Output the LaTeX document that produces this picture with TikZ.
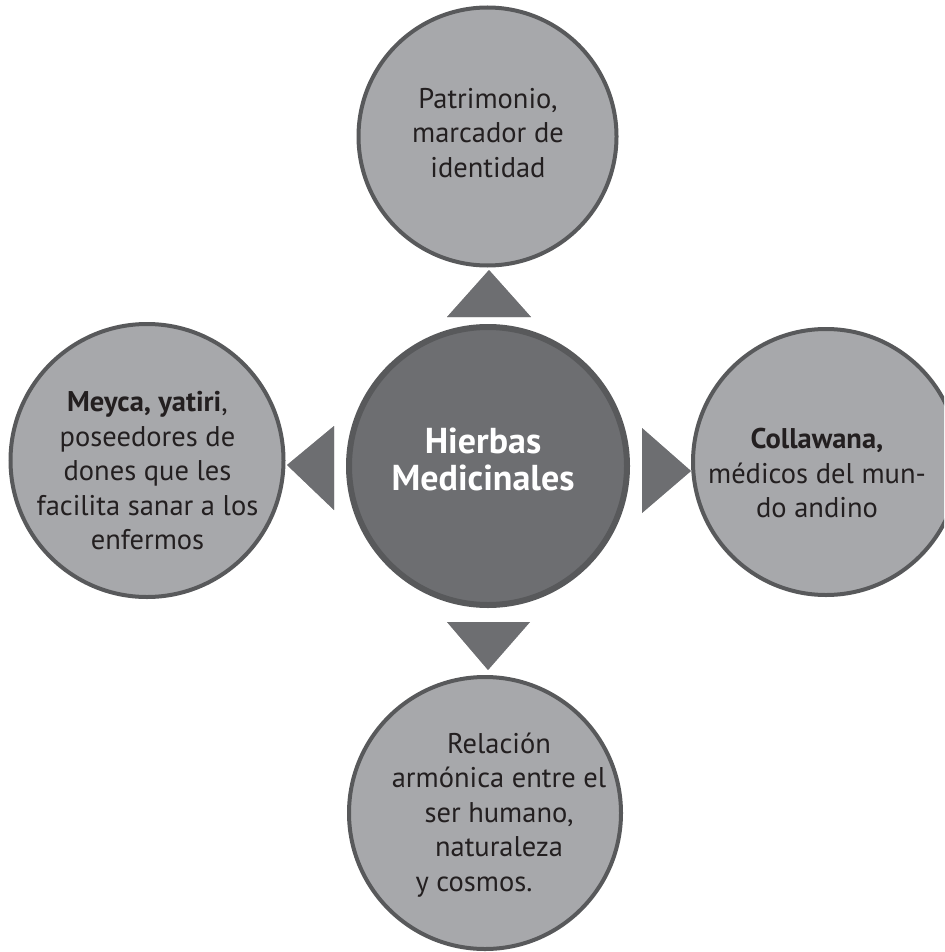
\documentclass[tikz,border=0pt]{standalone}
\usepackage{fontspec}
\setmainfont{PT Sans}
\definecolor{outerfill}{HTML}{A7A8AB}
\definecolor{ringline}{HTML}{58595B}
\definecolor{corefill}{HTML}{6D6E71}
\definecolor{txtdark}{HTML}{231F20}
\tikzset{
  outerc/.style={circle, fill=outerfill, draw=ringline, line width=4pt, inner sep=0pt},
  corec/.style={circle, fill=corefill, draw=ringline, line width=6pt, inner sep=0pt},
  otxt/.style={align=center, text=txtdark, font=\fontsize{28.5}{34.5}\selectfont, inner sep=0pt},
  ctxt/.style={align=center, text=white, font=\fontsize{36}{37}\selectfont\bfseries, inner sep=0pt},
  arrowtri/.style={fill=corefill},
  shadowtri/.style={fill=black, fill opacity=0.06}
}
\begin{document}
\begin{tikzpicture}[x=1pt,y=-1pt]
\useasboundingbox (0,0) rectangle (944,952);
\clip (0,0) rectangle (944,952);
% circles
\node[outerc, minimum size=258pt] (T) at (487.5,136.5) {};
\node[outerc, minimum size=273pt] (L) at (147,460.5) {};
\node[outerc, minimum size=266pt] (R) at (826,462) {};
\node[outerc, minimum size=272pt] (B) at (485,813) {};
\node[corec, minimum size=278pt] (C) at (488,466) {};
% texts
\node[otxt] (Tt) at (488,133) {Patrimonio,\\marcador de\\identidad};
\node[otxt] (Lt) at (147.5,471) {\textbf{Meyca, yatiri},\\poseedores de\\dones que les\\facilita sanar a los\\enfermos};
\node[otxt] (Rt) at (817,473) {\textbf{Collawana,}\\médicos del mun-\\do andino};
\node[otxt] (Bt) at (499,815) {Relación\\armónica entre el\\ser humano,\\naturaleza\\y cosmos.\hspace*{50pt}};
\node[ctxt] (Ct) at (483,459) {Hierbas\\Medicinales};
% arrow triangles with soft shadows
\coordinate (tA) at (489,270); \coordinate (tB) at (447,317); \coordinate (tC) at (531,317);
\coordinate (bA) at (488,670); \coordinate (bB) at (447,622); \coordinate (bC) at (530,622);
\coordinate (lA) at (287,465); \coordinate (lB) at (334,426); \coordinate (lC) at (334,510);
\coordinate (rA) at (691,471); \coordinate (rB) at (642,428); \coordinate (rC) at (642,513);
\foreach \s in {1,2,3,4,5,6}{
  \fill[shadowtri, shift={(\s*0.9,\s*0.9)}] (tA) -- (tB) -- (tC) -- cycle;
  \fill[shadowtri, shift={(\s*0.9,\s*0.9)}] (bA) -- (bB) -- (bC) -- cycle;
  \fill[shadowtri, shift={(\s*0.9,\s*0.9)}] (lA) -- (lB) -- (lC) -- cycle;
  \fill[shadowtri, shift={(\s*0.9,\s*0.9)}] (rA) -- (rB) -- (rC) -- cycle;
}
\fill[arrowtri] (tA) -- (tB) -- (tC) -- cycle;
\fill[arrowtri] (bA) -- (bB) -- (bC) -- cycle;
\fill[arrowtri] (lA) -- (lB) -- (lC) -- cycle;
\fill[arrowtri] (rA) -- (rB) -- (rC) -- cycle;
\end{tikzpicture}
\end{document}
